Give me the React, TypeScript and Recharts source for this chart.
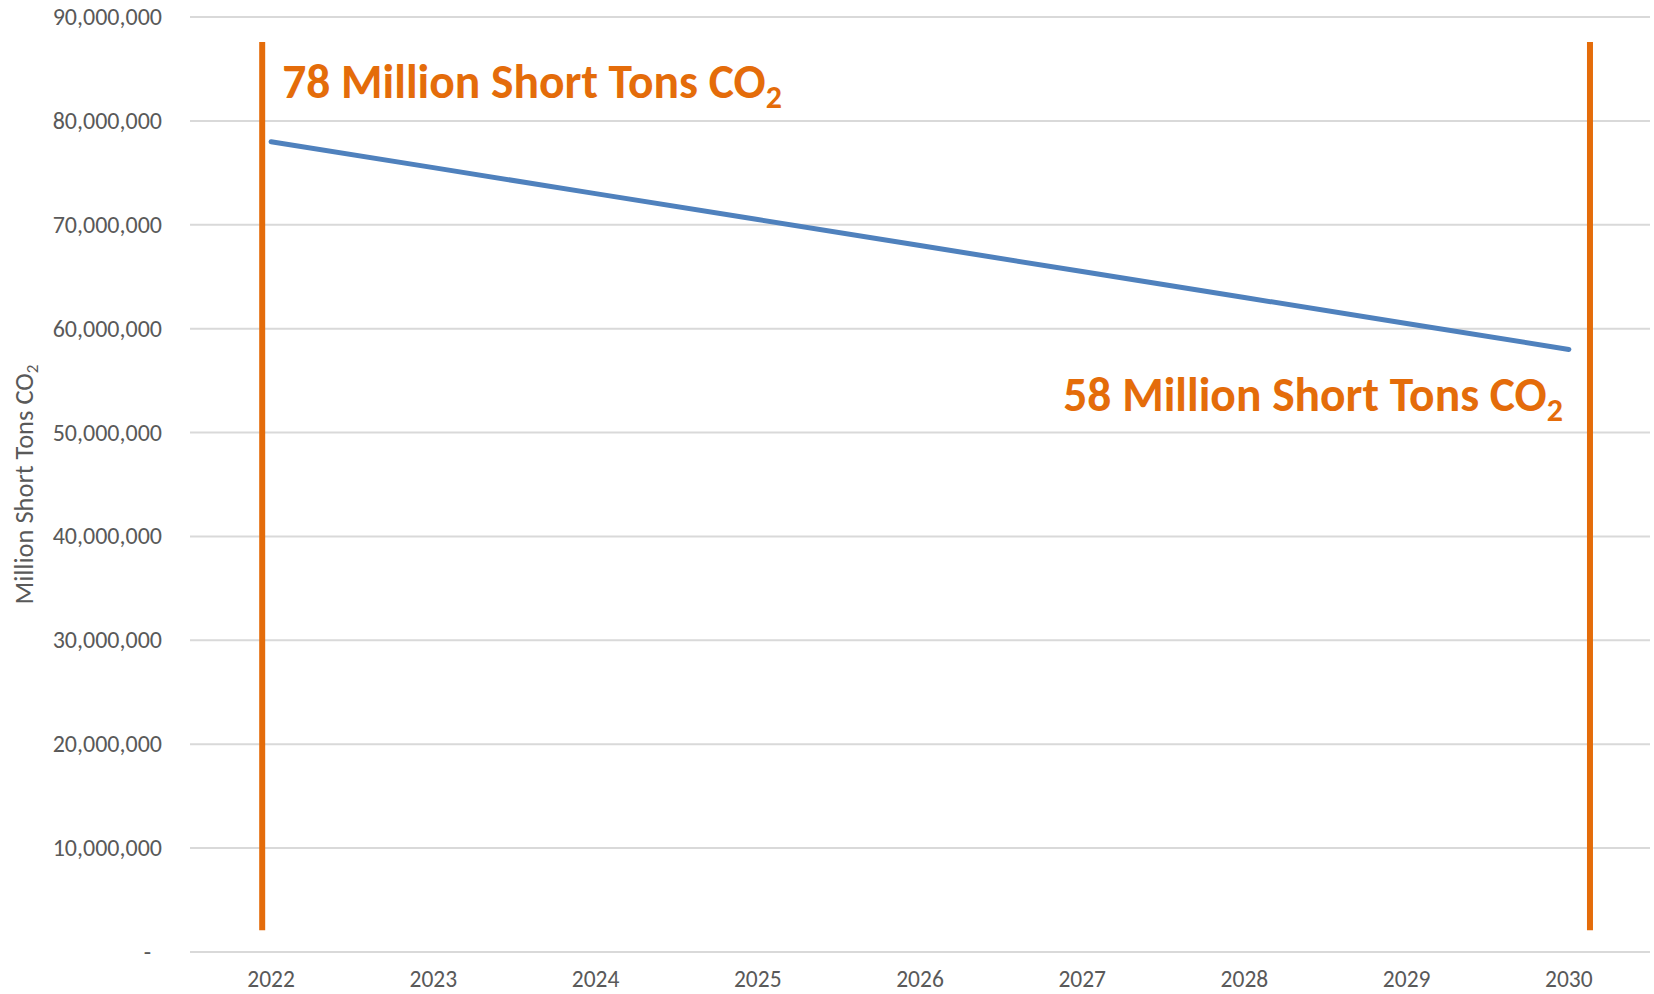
import { LineChart, Line, XAxis, YAxis, CartesianGrid, ReferenceLine } from 'recharts';

const years = [2022, 2023, 2024, 2025, 2026, 2027, 2028, 2029, 2030];
const emissions = [78000000, 75500000, 73000000, 70500000, 68000000, 65500000, 63000000, 60500000, 58000000];
const yTicks = [0, 10000000, 20000000, 30000000, 40000000, 50000000, 60000000, 70000000, 80000000, 90000000];

// orange marker bars and their captions
const markerYears = [2021.945, 2030.13];
const markerBottom = 2100000;
const markerTop = 87600000;
const markerCaptions = ['78 Million Short Tons CO', '58 Million Short Tons CO'];

const data = years.map((year, i) => ({ year, value: emissions[i] }));

const FONT = 'Calibri, Carlito, Lato, sans-serif';
const ORANGE = '#e46c0a';
const GREY = '#595959';

function YTick({ x, y, payload }: any) {
  const v = payload.value as number;
  return (
    <text x={v === 0 ? x - 11 : x} y={y} dy={8} textAnchor="end" fill={GREY} fontSize={24} fontFamily={FONT}>
      {v === 0 ? '-' : v.toLocaleString('en-US')}
    </text>
  );
}

function XTick({ x, y, payload }: any) {
  return (
    <text x={x} y={y} textAnchor="middle" fill={GREY} fontSize={23.5} fontFamily={FONT}>
      {payload.value}
    </text>
  );
}

function YTitle({ viewBox }: any) {
  const cx = viewBox.x + 33;
  const cy = viewBox.y + viewBox.height / 2;
  return (
    <text x={cx} y={cy} transform={`rotate(-90, ${cx}, ${cy})`} textAnchor="middle" fill={GREY} fontSize={26.5} fontFamily={FONT}>
      Million Short Tons CO<tspan dy={5} fontSize={17}>2</tspan>
    </text>
  );
}

function Caption({ viewBox, text, side }: any) {
  const left = side === 'left';
  return (
    <text
      x={left ? viewBox.x + 20 : viewBox.x - 27}
      y={left ? viewBox.y + 56 : viewBox.y + 369}
      textAnchor={left ? 'start' : 'end'}
      fill={ORANGE}
      fontSize={47.5}
      fontWeight="bold"
      fontFamily={FONT}
    >
      {text}
      <tspan dy={10} fontSize={32}>2</tspan>
    </text>
  );
}

export default function App() {
  return (
    <div style={{ position: 'absolute', left: 0, top: 0, background: '#fff' }}>
      <LineChart width={1654} height={994} data={data} margin={{ top: 17, right: 4, bottom: 0, left: 0 }}>
        <CartesianGrid horizontal vertical={false} stroke="#d9d9d9" strokeWidth={2} />
        <XAxis
          dataKey="year"
          type="number"
          domain={[2021.5, 2030.5]}
          ticks={years}
          height={42}
          axisLine={false}
          tickLine={false}
          tickMargin={29}
          tick={<XTick />}
        />
        <YAxis
          domain={[0, 90000000]}
          ticks={yTicks}
          width={190}
          axisLine={false}
          tickLine={false}
          tickMargin={22}
          tick={<YTick />}
          label={(p: any) => <YTitle {...p} />}
        />
        {markerYears.map((yr, i) => (
          <ReferenceLine
            key={yr}
            segment={[{ x: yr, y: markerBottom }, { x: yr, y: markerTop }]}
            stroke={ORANGE}
            strokeWidth={6}
            ifOverflow="visible"
            label={(p: any) => <Caption {...p} text={markerCaptions[i]} side={i === 0 ? 'left' : 'right'} />}
          />
        ))}
        <Line
          dataKey="value"
          stroke="#4f81bd"
          strokeWidth={5}
          strokeLinecap="round"
          dot={false}
          isAnimationActive={false}
        />
      </LineChart>
    </div>
  );
}
